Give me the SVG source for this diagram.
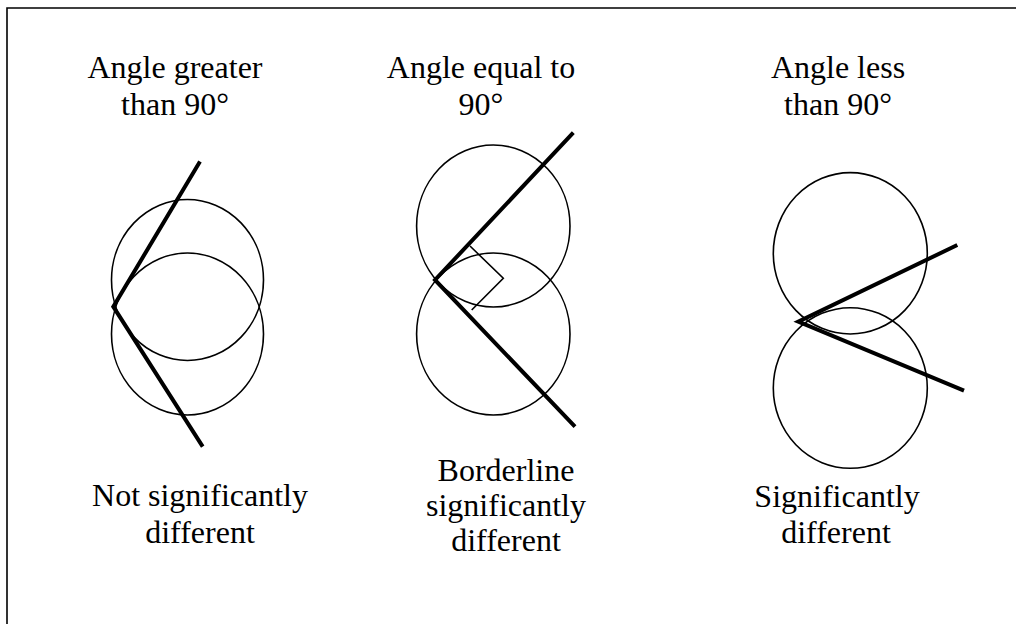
<svg xmlns="http://www.w3.org/2000/svg" width="1016" height="624" viewBox="0 0 1016 624">
<style>
.c{fill:none;stroke:#000;stroke-width:1.6}
.l{fill:none;stroke:#000;stroke-width:4;stroke-linecap:butt;stroke-linejoin:miter}
.t{font-family:"Liberation Serif","Times New Roman",serif;font-size:32px;fill:#000;text-anchor:middle}
</style>
<rect x="0" y="0" width="1016" height="624" fill="#fff"/>
<path d="M7,624 V8 H1016" fill="none" stroke="#000" stroke-width="1.6"/>
<g id="greater">
<ellipse class="c" cx="187.5" cy="280" rx="76" ry="80.5"/>
<ellipse class="c" cx="187.5" cy="334" rx="76" ry="81"/>
<text class="t" x="175" y="78">Angle greater</text>
<text class="t" x="175" y="115">than 90°</text>
<text class="t" x="200" y="506">Not significantly</text>
<text class="t" x="200" y="543">different</text>
</g>
<g id="equal">
<ellipse class="c" cx="493.3" cy="226" rx="76.7" ry="81"/>
<ellipse class="c" cx="493.3" cy="334" rx="76.7" ry="81"/>
<path class="c" d="M470,246 L503.3,278.3 L471.7,310"/>
<text class="t" x="481" y="78">Angle equal to</text>
<text class="t" x="481" y="115">90°</text>
<text class="t" x="506" y="481">Borderline</text>
<text class="t" x="506" y="516">significantly</text>
<text class="t" x="506" y="551">different</text>
</g>
<g id="less">
<ellipse class="c" cx="850.3" cy="253.3" rx="77" ry="80.7"/>
<ellipse class="c" cx="850.3" cy="388" rx="77" ry="80.3"/>
<text class="t" x="838" y="78">Angle less</text>
<text class="t" x="838" y="115">than 90°</text>
<text class="t" x="837" y="507">Significantly</text>
<text class="t" x="836" y="543">different</text>
</g>
<g id="connectors">
<polyline class="l" points="200,161.5 113.3,306.7 202.7,446.7"/>
<polyline class="l" points="573.3,132.7 435,280 575,426.7"/>
<polyline class="l" points="957.3,245 798.3,321.7 964,390.7"/>
</g>
</svg>
